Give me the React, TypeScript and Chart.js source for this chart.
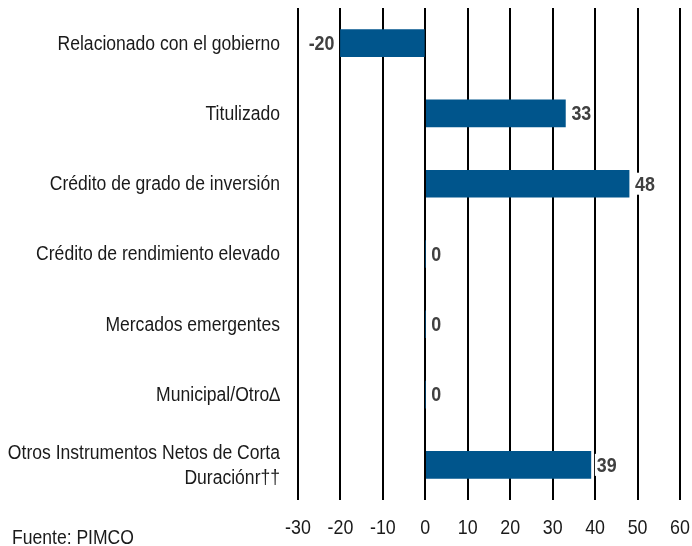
import React, { useEffect, useRef } from "react";
import { Chart, registerables } from "chart.js";

Chart.register(...registerables);

const categories: string[][] = [
  ["Relacionado con el gobierno"],
  ["Titulizado"],
  ["Crédito de grado de inversión"],
  ["Crédito de rendimiento elevado"],
  ["Mercados emergentes"],
  ["Municipal/Otro∆"],
  ["Otros Instrumentos Netos de Corta", "Duraciónr††"],
];
const values = [-20, 33, 48, 0, 0, 0, 39];
const xMin = -30;
const xMax = 60;
const xStep = 10;
const sourceText = "Fuente: PIMCO";

const FONT = "'Liberation Sans', Arial, sans-serif";

function drawScaled(
  ctx: CanvasRenderingContext2D,
  text: string,
  x: number,
  y: number,
  align: "left" | "right" | "center",
  font: string,
  sx: number,
  color: string
) {
  ctx.save();
  ctx.font = font;
  ctx.fillStyle = color;
  ctx.textBaseline = "middle";
  ctx.textAlign = align;
  ctx.translate(x, y);
  ctx.scale(sx, 1);
  ctx.fillText(text, 0, 0);
  ctx.restore();
}

const textPlugin = {
  id: "customText",
  afterDatasetsDraw(chart: any) {
    const ctx: CanvasRenderingContext2D = chart.ctx;
    const meta = chart.getDatasetMeta(0);
    const xScale = chart.scales.x;
    const area = chart.chartArea;
    const labelFont = `19.5px ${FONT}`;
    // value labels
    ctx.save();
    const valFont = `bold 21px ${FONT}`;
    const vsx = 0.85;
    ctx.font = valFont;
    meta.data.forEach((bar: any, i: number) => {
      const v = values[i];
      const txt = String(v);
      const w = ctx.measureText(txt).width * vsx;
      const y = bar.y;
      let x: number;
      if (v < 0) x = xScale.getPixelForValue(v) - 6 - w;
      else x = xScale.getPixelForValue(v) + 6;
      ctx.fillStyle = "#ffffff";
      ctx.fillRect(x - 2, y - 11, w + 4, 22);
      drawScaled(ctx, txt, x, y + 1, "left", valFont, vsx, "#404040");
      ctx.font = valFont;
    });
    ctx.restore();
    // category labels
    meta.data.forEach((bar: any, i: number) => {
      const lines = categories[i];
      const lh = 25;
      const y0 = bar.y - ((lines.length - 1) * lh) / 2;
      lines.forEach((ln, j) => {
        drawScaled(ctx, ln, area.left - 18, y0 + j * lh + 1, "right", labelFont, 0.9, "#1a1a1a");
      });
    });
    // x tick labels
    xScale.ticks.forEach((t: any, i: number) => {
      const x = xScale.getPixelForTick(i);
      drawScaled(ctx, String(t.value), x, area.bottom + 28, "center", `21px ${FONT}`, 0.85, "#1a1a1a");
    });
    // source
    drawScaled(ctx, sourceText, 12, area.bottom + 39, "left", labelFont, 0.9, "#1a1a1a");
  },
};

export default function App() {
  const ref = useRef<HTMLCanvasElement>(null);
  useEffect(() => {
    if (!ref.current) return;
    const chart = new Chart(ref.current, {
      type: "bar",
      data: {
        labels: categories.map((c) => c.join(" ")),
        datasets: [
          {
            data: values,
            backgroundColor: "#00558C",
            borderWidth: 0,
            barThickness: 27,
          },
        ],
      },
      options: {
        indexAxis: "y",
        animation: false,
        responsive: false,
        maintainAspectRatio: false,
        layout: { padding: { top: 8, right: 12, left: 0, bottom: 0 } },
        plugins: { legend: { display: false }, tooltip: { enabled: false } },
        scales: {
          x: {
            min: xMin,
            max: xMax,
            ticks: { stepSize: xStep, display: false },
            grid: { color: "#000", lineWidth: 2, drawTicks: false },
            border: { display: false },
            afterFit: (s: any) => {
              s.height = 46;
              s.paddingLeft = 0;
              s.paddingRight = 0;
            },
          },
          y: {
            ticks: { display: false },
            grid: { display: false },
            border: { display: false },
            afterFit: (s: any) => {
              s.width = 298;
              s.paddingTop = 0;
              s.paddingBottom = 0;
            },
          },
        },
      },
      plugins: [textPlugin],
    });
    return () => chart.destroy();
  }, []);
  return (
    <div style={{ position: "absolute", left: 0, top: 0, width: 692, height: 546, background: "#fff" }}>
      <canvas ref={ref} width={692} height={546} style={{ display: "block" }} />
    </div>
  );
}
